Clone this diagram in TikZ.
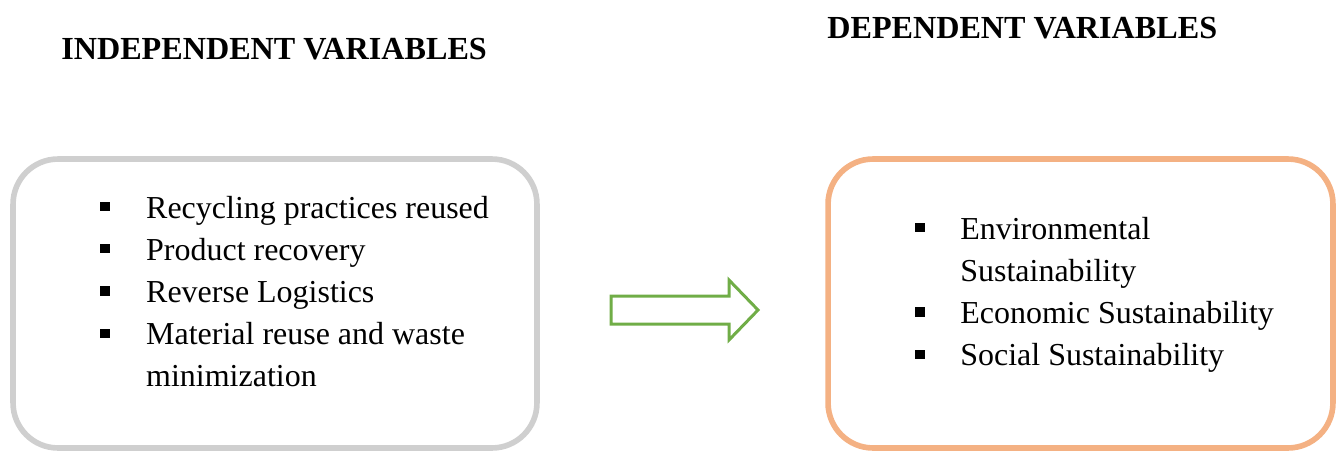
\documentclass[tikz,border=0pt]{standalone}
\usepackage{fontspec}
\setmainfont{Liberation Serif}
\usepackage{xcolor}
\usepackage{tikz}
\usetikzlibrary{positioning}
\definecolor{boxgray}{HTML}{CFCFCF}
\definecolor{boxorange}{HTML}{F4B183}
\definecolor{arrowgreen}{HTML}{70AD47}
\newcommand{\sqbullet}{\rule[3.8pt]{5.3pt}{5.3pt}}

\begin{document}
\begin{tikzpicture}[x=0.02cm,y=-0.02cm,
  varbox/.style={draw,line width=3.2pt,rounded corners=0.9cm,minimum height=5.78cm},
  headline/.style={anchor=base west,inner sep=0pt,font=\fontsize{18.3pt}{22pt}\selectfont\bfseries},
  varlist/.style={anchor=base west,inner sep=0pt,font=\fontsize{18.2pt}{24pt}\selectfont}]
  \useasboundingbox (0,0) rectangle (1341,450);
  % headings
  \node[headline] (indep) at (61,59) {INDEPENDENT VARIABLES};
  \node[headline] (dep) at (827,38) {DEPENDENT VARIABLES};
  % boxes
  \node[varbox,draw=boxgray,minimum width=10.48cm] (ivbox) at (275,303.5) {};
  \node[varbox,draw=boxorange,minimum width=10.1cm] (dvbox) at (1080.5,303.5) {};
  \node[varlist] (ivlist) at (100,218) {\begin{tabular}[t]{@{}l@{\hspace{20.8pt}}l@{}}
    \sqbullet & Recycling practices reused\\
    \sqbullet & Product recovery\\
    \sqbullet & Reverse Logistics\\
    \sqbullet & Material reuse and waste\\
              & minimization
  \end{tabular}};
  \node[varlist] (dvlist) at (915,239) {\begin{tabular}[t]{@{}l@{\hspace{20.3pt}}l@{}}
    \sqbullet & Environmental\\
              & Sustainability\\
    \sqbullet & Economic Sustainability\\
    \sqbullet & Social Sustainability
  \end{tabular}};
  % block arrow
  \draw[arrowgreen,line width=1.7pt,line join=miter]
    (611,296) -- (729,296) -- (729,280) -- (758,310) -- (729,340) -- (729,324) -- (611,324) -- cycle;
\end{tikzpicture}
\end{document}
